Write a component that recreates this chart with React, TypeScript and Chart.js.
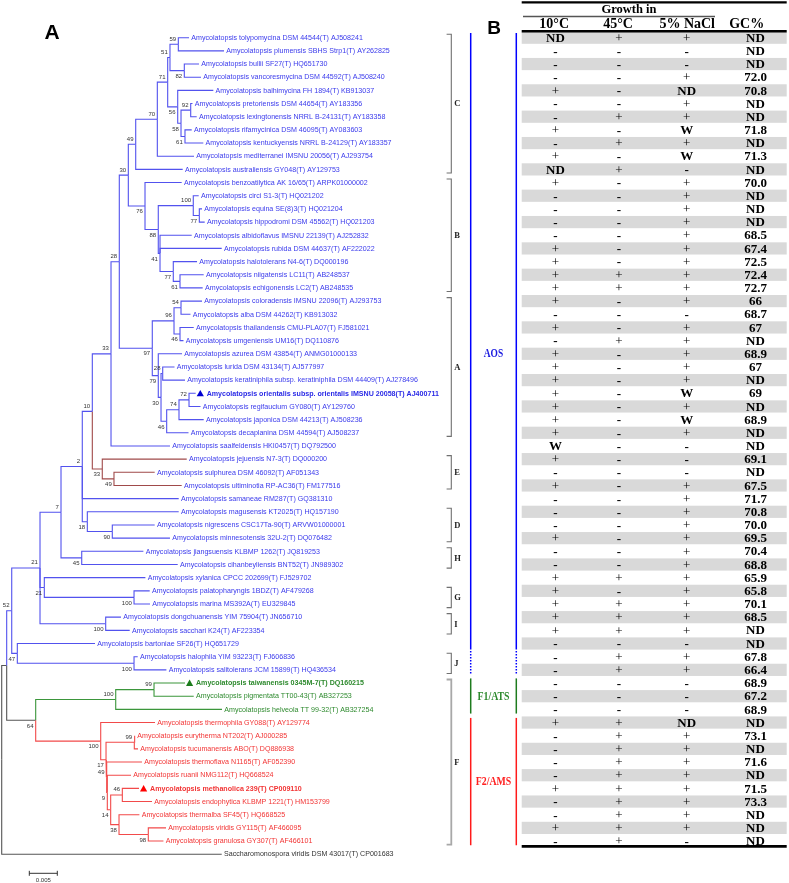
import React, { useEffect, useRef } from 'react';
import { Chart, registerables } from 'chart.js';

Chart.register(...registerables);

// ---------------- Tree data ----------------
const leafNames: string[] = [
  'Amycolatopsis tolypomycina DSM 44544(T) AJ508241',
  'Amycolatopsis plumensis SBHS Strp1(T) AY262825',
  'Amycolatopsis bullii SF27(T) HQ651730',
  'Amycolatopsis vancoresmycina DSM 44592(T) AJ508240',
  'Amycolatopsis balhimycina FH 1894(T) KB913037',
  'Amycolatopsis pretoriensis DSM 44654(T) AY183356',
  'Amycolatopsis lexingtonensis NRRL B-24131(T) AY183358',
  'Amycolatopsis rifamycinica DSM 46095(T) AY083603',
  'Amycolatopsis kentuckyensis NRRL B-24129(T) AY183357',
  'Amycolatopsis mediterranei IMSNU 20056(T) AJ293754',
  'Amycolatopsis australiensis GY048(T) AY129753',
  'Amycolatopsis benzoatilytica AK 16/65(T) ARPK01000002',
  'Amycolatopsis circi S1-3(T) HQ021202',
  'Amycolatopsis equina SE(8)3(T) HQ021204',
  'Amycolatopsis hippodromi DSM 45562(T) HQ021203',
  'Amycolatopsis albidoflavus IMSNU 22139(T) AJ252832',
  'Amycolatopsis rubida DSM 44637(T) AF222022',
  'Amycolatopsis halotolerans N4-6(T) DQ000196',
  'Amycolatopsis niigatensis LC11(T) AB248537',
  'Amycolatopsis echigonensis LC2(T) AB248535',
  'Amycolatopsis coloradensis IMSNU 22096(T) AJ293753',
  'Amycolatopsis alba DSM 44262(T) KB913032',
  'Amycolatopsis thailandensis CMU-PLA07(T) FJ581021',
  'Amycolatopsis umgeniensis UM16(T) DQ110876',
  'Amycolatopsis azurea DSM 43854(T) ANMG01000133',
  'Amycolatopsis lurida DSM 43134(T) AJ577997',
  'Amycolatopsis keratiniphila subsp. keratiniphila DSM 44409(T) AJ278496',
  'Amycolatopsis orientalis subsp. orientalis IMSNU 20058(T) AJ400711',
  'Amycolatopsis regifaucium GY080(T) AY129760',
  'Amycolatopsis japonica DSM 44213(T) AJ508236',
  'Amycolatopsis decaplanina DSM 44594(T) AJ508237',
  'Amycolatopsis saalfeldensis HKI0457(T) DQ792500',
  'Amycolatopsis jejuensis N7-3(T) DQ000200',
  'Amycolatopsis sulphurea DSM 46092(T) AF051343',
  'Amycolatopsis ultiminotia RP-AC36(T) FM177516',
  'Amycolatopsis samaneae RM287(T) GQ381310',
  'Amycolatopsis magusensis KT2025(T) HQ157190',
  'Amycolatopsis nigrescens CSC17Ta-90(T) ARVW01000001',
  'Amycolatopsis minnesotensis 32U-2(T) DQ076482',
  'Amycolatopsis jiangsuensis KLBMP 1262(T) JQ819253',
  'Amycolatopsis cihanbeyliensis BNT52(T) JN989302',
  'Amycolatopsis xylanica CPCC 202699(T) FJ529702',
  'Amycolatopsis palatopharyngis 1BDZ(T) AF479268',
  'Amycolatopsis marina MS392A(T) EU329845',
  'Amycolatopsis dongchuanensis YIM 75904(T) JN656710',
  'Amycolatopsis sacchari K24(T) AF223354',
  'Amycolatopsis bartoniae SF26(T) HQ651729',
  'Amycolatopsis halophila YIM 93223(T) FJ606836',
  'Amycolatopsis salitolerans JCM 15899(T) HQ436534',
  'Amycolatopsis taiwanensis 0345M-7(T) DQ160215',
  'Amycolatopsis pigmentata TT00-43(T) AB327253',
  'Amycolatopsis helveola TT 99-32(T) AB327254',
  'Amycolatopsis thermophila GY088(T) AY129774',
  'Amycolatopsis eurytherma NT202(T) AJ000285',
  'Amycolatopsis tucumanensis ABO(T) DQ886938',
  'Amycolatopsis thermoflava N1165(T) AF052390',
  'Amycolatopsis ruanii NMG112(T) HQ668524',
  'Amycolatopsis methanolica 239(T) CP009110',
  'Amycolatopsis endophytica KLBMP 1221(T) HM153799',
  'Amycolatopsis thermalba SF45(T) HQ668525',
  'Amycolatopsis viridis GY115(T) AF466095',
  'Amycolatopsis granulosa GY307(T) AF466101',
  'Saccharomonospora viridis DSM 43017(T) CP001683',
];

// tip positions (substitutions per site from the root)
const leafDepths: number[] = [
  0.03345, 0.0397, 0.03523, 0.03559, 0.03779, 0.03407, 0.03482, 0.03393, 0.036, 0.03434,
  0.03232, 0.03214, 0.03518, 0.03577, 0.03625, 0.03393, 0.03929, 0.03488, 0.03607, 0.03589,
  0.03577, 0.03371, 0.03429, 0.03246, 0.0322, 0.03086, 0.03273, 0.03464, 0.0355, 0.03607,
  0.03336, 0.03005, 0.03304, 0.02732, 0.03214, 0.03161, 0.03161, 0.02732, 0.03005, 0.0253,
  0.03143, 0.02566, 0.02643, 0.02648, 0.0213, 0.02286, 0.01666, 0.02429, 0.02941, 0.03273,
  0.03429, 0.03934, 0.02738, 0.0238, 0.02434, 0.02505, 0.02309, 0.02452, 0.02684, 0.02459,
  0.02934, 0.02888, 0.03929,
];

const boldLeaves: number[] = [27, 49, 57];

const nodeIds: string[] = [
  'n59', 'n82', 'n51', 'n92', 'n61c', 'n58', 'n56', 'n71', 'n70', 'n49',
  'n77a', 'n100a', 'n61b', 'n77b', 'n41', 'n88', 'n76', 'n30',
  'n54', 'n46a', 'n96', 'n28b', 'n72', 'n74', 'n46b', 'n30b', 'n79', 'n97', 'n28', 'n33',
  'n49e', 'n33e', 'n10', 'n90', 'n18', 'n2', 'n45', 'n7', 'n100g', 'n21b', 'n100i', 'n21a',
  'n100j', 'n47', 'n52', 'n99', 'n100f1', 'n99b', 'n46f', 'n98', 'n38', 'n14', 'n9', 'n49f',
  'n17', 'n100f2', 'n64', 'nQ', 'root',
];

const nodeDepths: number[] = [
  0.03154, 0.03261, 0.03005, 0.03375, 0.03273, 0.03202, 0.03143, 0.02964, 0.02779, 0.02393,
  0.03529, 0.03421, 0.03184, 0.03064, 0.02827, 0.02796, 0.02559, 0.02261,
  0.03202, 0.03184, 0.03077, 0.02875, 0.03345, 0.03166, 0.02946, 0.02845, 0.02796, 0.02689, 0.021, 0.01952,
  0.02005, 0.01796, 0.01618, 0.01975, 0.01529, 0.01439, 0.01429, 0.01059, 0.02363, 0.00761, 0.01857, 0.00684,
  0.02363, 0.00279, 0.00179, 0.0272, 0.02036, 0.02368, 0.02154, 0.02618, 0.02095, 0.01946, 0.01886, 0.01875,
  0.01863, 0.01768, 0.00607, 0.00089, 0,
];

const nodeChildren: (number | string)[][] = [
  [0, 1], [2, 3], ['n59', 'n82'], [5, 6], [7, 8], ['n92', 'n61c'], [4, 'n58'], ['n51', 'n56'], ['n71', 9], ['n70', 10],
  [13, 14], [12, 'n77a'], [18, 19], [17, 'n61b'], [15, 16, 'n77b'], ['n100a', 'n41'], [11, 'n88'], ['n49', 'n76'],
  [20, 21], [22, 23], ['n54', 'n46a'], [25, 26], [27, 28], ['n72', 29], ['n74', 30], ['n28b', 'n46b'], [24, 'n30b'], ['n96', 'n79'], ['n30', 'n97'], ['n28', 31],
  [33, 34], [32, 'n49e'], ['n33', 'n33e'], [37, 38], [36, 'n90'], ['n10', 35, 'n18'], [39, 40], ['n2', 'n45'], [42, 43], [41, 'n100g'], [44, 45], ['n7', 'n21b', 'n100i'],
  [47, 48], [46, 'n100j'], ['n21a', 'n47'], [49, 50], ['n99', 51], [53, 54], [57, 58], [60, 61], [59, 'n98'], ['n46f', 'n38'], [56, 'n14'], [55, 'n9'],
  ['n99b', 'n49f'], [52, 'n17'], ['n100f1', 'n100f2'], ['n52', 'n64'], ['nQ', 62],
];

const nodeSupport: (number | null)[] = [
  59, 82, 51, 92, 61, 58, 56, 71, 70, 49,
  77, 100, 61, 77, 41, 88, 76, 30,
  54, 46, 96, 28, 72, 74, 46, 30, 79, 97, 28, 33,
  49, 33, 10, 90, 18, 2, 45, 7, 100, 21, 100, 21,
  100, 47, 52, 99, 100, 99, 46, 98, 38, 14, 9, 49,
  17, 100, 64, null, null,
];

const supportForcedAbove: string[] = ['n49f'];

// branch colour groups (subtree roots)
const colourRoots: string[] = ['root', 'nQ', 'n52', 'n33e', 'n100f1', 'n100f2'];
const colourKeys: string[] = ['gray', 'gray', 'blue', 'brown', 'green', 'red'];

// clades (brackets)
const cladeLabels: string[] = ['C', 'B', 'A', 'E', 'D', 'H', 'G', 'I', 'J', 'F'];
const cladeStart: number[] = [0, 11, 20, 32, 36, 39, 42, 44, 47, 49];
const cladeEnd: number[] = [10, 19, 30, 34, 38, 40, 43, 45, 48, 61];

// groups
const groupLabels: string[] = ['AOS', 'F1/ATS', 'F2/AMS'];
const groupStart: number[] = [0, 49, 52];
const groupEnd: number[] = [48, 51, 61];
const groupDottedFrom: (number | null)[] = [47, null, null];

// ---------------- Table data ----------------
const tableHeaders: string[] = ['10°C', '45°C', '5% NaCl', 'GC%'];
const growth10C: string[] = [
  'ND', '-', '-', '-', '+', '-', '-', '+', '-', '+',
  'ND', '+', '-', '-', '-', '-', '+', '+', '+', '+',
  '+', '-', '+', '-', '+', '+', '+', '+', '+', '+',
  '+', 'W', '+', '-', '+', '-', '-', '-', '+', '-',
  '-', '+', '+', '+', '+', '+', '-', '-', '-', '-',
  '-', '-', '+', '-', '-', '-', '-', '+', '-', '-',
  '+', '-',
];
const growth45C: string[] = [
  '+', '-', '-', '-', '-', '-', '+', '-', '+', '-',
  '+', '-', '-', '-', '-', '-', '-', '-', '+', '+',
  '-', '-', '-', '+', '-', '-', '-', '-', '-', '-',
  '-', '-', '-', '-', '-', '-', '-', '-', '-', '-',
  '-', '+', '-', '+', '+', '+', '-', '+', '+', '-',
  '-', '-', '+', '+', '+', '+', '+', '+', '+', '+',
  '+', '+',
];
const growthNaCl: string[] = [
  '+', '-', '-', '+', 'ND', '+', '+', 'W', '+', 'W',
  '-', '+', '+', '+', '+', '+', '+', '+', '+', '+',
  '+', '-', '+', '+', '+', '+', '+', 'W', '+', 'W',
  '+', '-', '-', '-', '+', '+', '+', '+', '+', '+',
  '+', '+', '+', '+', '+', '+', '-', '+', '+', '-',
  '-', '-', 'ND', '+', '+', '+', '+', '+', '+', '+',
  '+', '-',
];
const gcContent: string[] = [
  'ND', 'ND', 'ND', '72.0', '70.8', 'ND', 'ND', '71.8', 'ND', '71.3',
  'ND', '70.0', 'ND', 'ND', 'ND', '68.5', '67.4', '72.5', '72.4', '72.7',
  '66', '68.7', '67', 'ND', '68.9', '67', 'ND', '69', 'ND', '68.9',
  'ND', 'ND', '69.1', 'ND', '67.5', '71.7', '70.8', '70.0', '69.5', '70.4',
  '68.8', '65.9', '65.8', '70.1', '68.5', 'ND', 'ND', '67.8', '66.4', '68.9',
  '67.2', '68.9', 'ND', '73.1', 'ND', '71.6', 'ND', '71.5', '73.3', 'ND',
  'ND', 'ND',
];

const scaleBarLength = 0.005;

// ---------------- helpers ----------------
const LINE_COLOURS: Record<string, string> = {
  blue: '#5252ee',
  brown: '#a04a4a',
  green: '#3b963b',
  red: '#f24a4a',
  gray: '#555555',
};

const nodeIndex = new Map<string, number>(nodeIds.map((id, i) => [id, i]));
const isLeaf = (c: number | string) => typeof c === 'number';
const depthOf = (c: number | string): number =>
  isLeaf(c) ? leafDepths[c as number] : nodeDepths[nodeIndex.get(c as string)!];
const yCache = new Map<string, number>();
const yOf = (c: number | string): number => {
  if (isLeaf(c)) return c as number;
  const key = c as string;
  if (yCache.has(key)) return yCache.get(key)!;
  const ch = nodeChildren[nodeIndex.get(key)!];
  const v = (yOf(ch[0]) + yOf(ch[ch.length - 1])) / 2;
  yCache.set(key, v);
  return v;
};

const parentOf = new Map<string, { parent: string; pos: number; count: number }>();
nodeIds.forEach((id, i) => {
  nodeChildren[i].forEach((c, k) => {
    parentOf.set(String(isLeaf(c) ? 'L' + c : c), { parent: id, pos: k, count: nodeChildren[i].length });
  });
});

const colourOf = new Map<string, string>();
const assignColours = (c: number | string, inherited: string) => {
  const key = isLeaf(c) ? 'L' + c : (c as string);
  const ri = isLeaf(c) ? -1 : colourRoots.indexOf(c as string);
  const col = ri >= 0 ? colourKeys[ri] : inherited;
  colourOf.set(key, col);
  if (!isLeaf(c)) nodeChildren[nodeIndex.get(c as string)!].forEach((ch) => assignColours(ch, col));
};
assignColours('root', 'gray');

const buildDatasets = () => {
  const ds: any[] = [];
  nodeIds.forEach((id, i) => {
    const px = nodeDepths[i];
    const py = yOf(id);
    nodeChildren[i].forEach((c) => {
      const key = isLeaf(c) ? 'L' + c : (c as string);
      const cy = yOf(c);
      ds.push({
        data: [
          { x: px, y: py },
          { x: px, y: cy },
          { x: depthOf(c), y: cy },
        ],
        showLine: true,
        borderColor: LINE_COLOURS[colourOf.get(key) || 'blue'],
        borderWidth: 1.1,
        pointRadius: 0,
        pointHoverRadius: 0,
        fill: false,
        tension: 0,
      });
    });
  });
  return ds;
};

const leafTextColour = (i: number) => {
  if (i === 62) return '#333333';
  if (i >= 52) return '#f23434';
  if (i >= 49) return '#2e8a2e';
  return '#3a3aec';
};
const triColour = (i: number) => (i >= 52 ? '#ff0000' : i >= 49 ? '#1c7c1c' : '#0000d0');

const SANS = '"Liberation Sans", Arial, sans-serif';
const SERIF = '"Liberation Serif", "Times New Roman", serif';

const drawPlugin = {
  id: 'treeAndTable',
  beforeDraw(chart: any) {
    const ctx = chart.ctx;
    ctx.save();
    ctx.fillStyle = '#ffffff';
    ctx.fillRect(0, 0, chart.width, chart.height);
    ctx.restore();
  },
  afterDatasetsDraw(chart: any) {
    const ctx: CanvasRenderingContext2D = chart.ctx;
    const xs = chart.scales.x;
    const ys = chart.scales.y;
    ctx.save();

    // leaf labels
    ctx.textBaseline = 'middle';
    ctx.textAlign = 'left';
    leafNames.forEach((name, i) => {
      const tx = xs.getPixelForValue(leafDepths[i]);
      const ty = ys.getPixelForValue(i);
      ctx.fillStyle = leafTextColour(i);
      if (boldLeaves.includes(i)) {
        const cx = tx + 4.6;
        ctx.fillStyle = triColour(i);
        ctx.beginPath();
        ctx.moveTo(cx - 3.6, ty + 3);
        ctx.lineTo(cx + 3.6, ty + 3);
        ctx.lineTo(cx, ty - 3.4);
        ctx.closePath();
        ctx.fill();
        ctx.fillStyle = triColour(i) === '#0000d0' ? '#2a2ae6' : leafTextColour(i);
        ctx.font = `bold 7.1px ${SANS}`;
        ctx.fillText(name, tx + 11, ty + 0.3);
      } else {
        ctx.font = `7.1px ${SANS}`;
        ctx.fillText(name, tx + 2.3, ty + 0.3);
      }
    });

    // support values
    ctx.font = `6px ${SANS}`;
    ctx.fillStyle = '#333333';
    ctx.textAlign = 'right';
    nodeIds.forEach((id, i) => {
      const s = nodeSupport[i];
      if (s === null) return;
      const nx = xs.getPixelForValue(nodeDepths[i]);
      const ny = ys.getPixelForValue(yOf(id));
      const p = parentOf.get(id);
      const above = supportForcedAbove.includes(id) || (p ? p.pos === 0 : true);
      ctx.fillText(String(s), nx - 2.2, ny + (above ? -5.2 : 5.6));
    });

    // scale bar
    const sb0 = xs.getPixelForValue(0.00493);
    const sb1 = xs.getPixelForValue(0.00493 + scaleBarLength);
    const sby = 873.3;
    ctx.strokeStyle = '#333333';
    ctx.lineWidth = 1;
    ctx.beginPath();
    ctx.moveTo(sb0, sby);
    ctx.lineTo(sb1, sby);
    ctx.moveTo(sb0, sby - 2.5);
    ctx.lineTo(sb0, sby + 2.5);
    ctx.moveTo(sb1, sby - 2.5);
    ctx.lineTo(sb1, sby + 2.5);
    ctx.stroke();
    ctx.textAlign = 'center';
    ctx.fillStyle = '#333333';
    ctx.font = `6px ${SANS}`;
    ctx.fillText(String(scaleBarLength), (sb0 + sb1) / 2, 880);

    // panel letters
    ctx.fillStyle = '#000000';
    ctx.font = `bold 21px ${SANS}`;
    ctx.fillText('A', 52.2, 33);
    ctx.font = `bold 19px ${SANS}`;
    ctx.fillText('B', 494.2, 29);

    // clade brackets
    cladeLabels.forEach((lab, k) => {
      const y0 = ys.getPixelForValue(cladeStart[k]) - 3.5;
      const y1 = ys.getPixelForValue(cladeEnd[k]) + 3.6;
      const isF = lab === 'F';
      ctx.strokeStyle = isF ? '#a8a8a8' : '#707070';
      ctx.lineWidth = isF ? 1.8 : 1.1;
      ctx.beginPath();
      ctx.moveTo(446.6, y0);
      ctx.lineTo(451.3, y0);
      ctx.lineTo(451.3, y1);
      ctx.lineTo(446.6, y1);
      ctx.stroke();
      ctx.fillStyle = '#222222';
      ctx.font = `bold 8.5px ${SERIF}`;
      ctx.textAlign = 'left';
      ctx.fillText(lab, 454.3, (y0 + y1) / 2 + 0.5);
    });

    // group bars
    const gCols = ['#0000ff', '#1e7b1e', '#ff1a1a'];
    const gText = ['#1a1ae0', '#2e8a2e', '#ff2020'];
    groupLabels.forEach((lab, k) => {
      const y0 = ys.getPixelForValue(groupStart[k]) - 4.6;
      const y1 = ys.getPixelForValue(groupEnd[k]) + 4.2;
      const dFrom = groupDottedFrom[k];
      const yd = dFrom !== null ? ys.getPixelForValue(dFrom) - 8.6 : y1;
      ctx.strokeStyle = gCols[k];
      ctx.lineWidth = 1.5;
      [470.7, 516.3].forEach((gx) => {
        ctx.setLineDash([]);
        ctx.beginPath();
        ctx.moveTo(gx, y0);
        ctx.lineTo(gx, yd);
        ctx.stroke();
        if (dFrom !== null) {
          ctx.setLineDash([1.5, 1.5]);
          ctx.beginPath();
          ctx.moveTo(gx, yd);
          ctx.lineTo(gx, y1);
          ctx.stroke();
          ctx.setLineDash([]);
        }
      });
      const cy = (ys.getPixelForValue(groupStart[k]) + ys.getPixelForValue(groupEnd[k])) / 2;
      ctx.save();
      ctx.translate(493.5, cy + 0.5);
      ctx.scale(0.82, 1);
      ctx.fillStyle = gText[k];
      ctx.font = `bold ${k === 0 ? 11.5 : 12}px ${SERIF}`;
      ctx.textAlign = 'center';
      ctx.fillText(lab, 0, 0);
      ctx.restore();
    });

    // table
    const tL = 521.7;
    const tR = 786.7;
    const colX = [555.5, 619, 686.7, 755.5];
    const hdrX = [554.2, 618, 687.2, 746.7];
    const cols = [growth10C, growth45C, growthNaCl, gcContent];
    for (let i = 0; i < gcContent.length; i++) {
      const ry = ys.getPixelForValue(i);
      if (i % 2 === 0) {
        ctx.fillStyle = '#d9d9d9';
        ctx.fillRect(tL, ry - 6.1, tR - tL, 12.2);
      }
      cols.forEach((col, c) => {
        const v = col[i];
        ctx.fillStyle = '#000000';
        ctx.textAlign = 'center';
        if (v === '+') ctx.font = `13px ${SERIF}`;
        else ctx.font = `bold 13px ${SERIF}`;
        ctx.fillText(v, colX[c], ry + (v === '-' ? 1.5 : 0.8));
      });
    }

    // header
    ctx.strokeStyle = '#000000';
    ctx.lineWidth = 2.4;
    ctx.beginPath();
    ctx.moveTo(tL, 2.4);
    ctx.lineTo(tR, 2.4);
    ctx.stroke();
    ctx.lineWidth = 2.6;
    ctx.beginPath();
    ctx.moveTo(tL, 31.2);
    ctx.lineTo(tR, 31.2);
    ctx.stroke();
    const lastY = ys.getPixelForValue(gcContent.length - 1);
    ctx.lineWidth = 2.8;
    ctx.beginPath();
    ctx.moveTo(tL, lastY + 5.3);
    ctx.lineTo(tR, lastY + 5.3);
    ctx.stroke();
    ctx.strokeStyle = '#555555';
    ctx.lineWidth = 1.4;
    ctx.beginPath();
    ctx.moveTo(523, 16.5);
    ctx.lineTo(715, 16.5);
    ctx.stroke();

    ctx.fillStyle = '#000000';
    ctx.textAlign = 'center';
    ctx.font = `bold 12.5px ${SERIF}`;
    ctx.fillText('Growth in', 629, 10);
    ctx.font = `bold 14px ${SERIF}`;
    tableHeaders.forEach((h, c) => {
      ctx.fillText(h, hdrX[c], 24.8);
    });

    ctx.restore();
  },
};

export default function App() {
  const ref = useRef<HTMLCanvasElement | null>(null);
  useEffect(() => {
    const canvas = ref.current;
    if (!canvas) return;
    const chart = new Chart(canvas, {
      type: 'scatter',
      data: { datasets: buildDatasets() },
      options: {
        animation: false,
        responsive: false,
        maintainAspectRatio: false,
        devicePixelRatio: 1,
        events: [],
        layout: { padding: 0 },
        plugins: {
          legend: { display: false },
          tooltip: { enabled: false },
        },
        scales: {
          x: { type: 'linear', display: false, min: -0.000304, max: 0.14059 },
          y: { type: 'linear', display: false, min: -2.8626, max: 64.185, reverse: true },
        },
      } as any,
      plugins: [drawPlugin],
    });
    return () => chart.destroy();
  }, []);
  return (
    <div style={{ position: 'fixed', left: 0, top: 0, width: 789, height: 883, background: '#ffffff' }}>
      <canvas ref={ref} width={789} height={883} style={{ display: 'block', width: 789, height: 883 }} />
    </div>
  );
}
